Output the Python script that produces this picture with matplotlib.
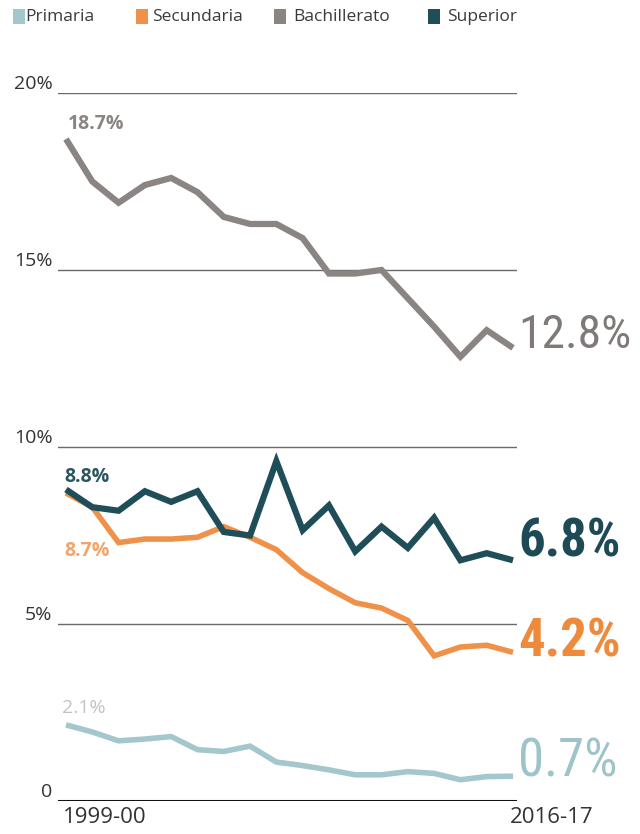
import matplotlib
matplotlib.use("Agg")
import matplotlib.pyplot as plt
from matplotlib import font_manager as fm
from matplotlib.patches import Rectangle

# ---- data ----
years = ["1999-00", "2000-01", "2001-02", "2002-03", "2003-04", "2004-05",
         "2005-06", "2006-07", "2007-08", "2008-09", "2009-10", "2010-11",
         "2011-12", "2012-13", "2013-14", "2014-15", "2015-16", "2016-17"]
bachillerato = [18.7, 17.5, 16.9, 17.4, 17.6, 17.2, 16.5, 16.3, 16.3, 15.9,
                14.9, 14.9, 15.0, 14.2, 13.4, 12.55, 13.3, 12.8]
superior = [8.8, 8.3, 8.2, 8.75, 8.45, 8.75, 7.6, 7.5, 9.6, 7.65,
            8.35, 7.05, 7.75, 7.15, 8.0, 6.8, 7.0, 6.8]
secundaria = [8.7, 8.3, 7.3, 7.4, 7.4, 7.45, 7.75, 7.45, 7.1, 6.45,
              6.0, 5.6, 5.45, 5.1, 4.1, 4.35, 4.4, 4.2]
primaria = [2.15, 1.95, 1.7, 1.75, 1.82, 1.45, 1.4, 1.55, 1.1, 1.0,
            0.88, 0.74, 0.74, 0.83, 0.78, 0.6, 0.69, 0.7]
series_names = ["Primaria", "Secundaria", "Bachillerato", "Superior"]
start_labels = ["2.1%", "8.7%", "18.7%", "8.8%"]
end_labels = ["0.7%", "4.2%", "12.8%", "6.8%"]
ytick_vals = [0, 5, 10, 15, 20]
ytick_labels = ["0", "5%", "10%", "15%", "20%"]

colors = {"Primaria": "#a3c7cd", "Secundaria": "#f0914a",
          "Bachillerato": "#8a8482", "Superior": "#1f4d58"}
values = {"Primaria": primaria, "Secundaria": secundaria,
          "Bachillerato": bachillerato, "Superior": superior}

# pick a narrow font for the big end labels
names = {f.name for f in fm.fontManager.ttflist}
narrow_candidates = ["Liberation Sans Narrow", "Roboto Condensed",
                     "Noto Sans Condensed", "Open Sans Condensed",
                     "DejaVu Sans Condensed", "Noto Sans Display Condensed"]
narrow = None
for c in narrow_candidates:
    if c in names:
        narrow = c
        break
stretch = "normal"
if narrow is None:
    for f in fm.fontManager.ttflist:
        if str(f.stretch) in ("condensed", "semi-condensed", "extra-condensed") or \
           (isinstance(f.stretch, int) and f.stretch < 500):
            narrow = f.name
            stretch = "condensed"
            break
if narrow is None:
    narrow = "Roboto"
    end_size = 31
else:
    end_size = 38 if narrow != "DejaVu Sans Condensed" else 30

W, H = 640, 834
fig = plt.figure(figsize=(W / 100, H / 100), dpi=100)
fig.patch.set_facecolor("white")

ax = fig.add_axes([58 / W, (H - 801) / H, (517 - 58) / W, (801 - 93) / H])
x = list(range(len(years)))
ax.set_xlim(-0.304, 17.152)
ax.set_ylim(0, 20)
for s in ax.spines.values():
    s.set_visible(False)

for v in ytick_vals[1:]:
    ax.axhline(v, color="#6a6a6a", lw=1.0, zorder=1)
ax.axhline(0, color="#111111", lw=2.2, zorder=1)

ax.set_yticks(ytick_vals)
ax.set_yticklabels(ytick_labels, fontsize=14, family=["Open Sans", "DejaVu Sans"],
                   color="#333333")
for lbl in ax.get_yticklabels():
    lbl.set_verticalalignment("bottom")
ax.tick_params(axis="y", length=0, pad=4)

ax.set_xticks([-0.1, len(years) - 1.1])
ax.set_xticklabels([years[0], years[-1]], fontsize=16,
                   family=["Open Sans", "DejaVu Sans"], color="#333333")
for lbl in ax.get_xticklabels():
    lbl.set_horizontalalignment("left")
ax.tick_params(axis="x", length=0, pad=4)

lw = {"Primaria": 4.0, "Secundaria": 4.0, "Bachillerato": 4.5, "Superior": 4.5}
for name in series_names:
    ax.plot(x, values[name], color=colors[name], lw=lw[name],
            solid_joinstyle="miter", solid_capstyle="butt", zorder=3)

start_pos = {"Primaria": (-0.15, 2.63, "#bfc3c5", "normal"),
             "Secundaria": (-0.05, 7.05, "#f2a46a", "bold"),
             "Bachillerato": (0.08, 19.12, "#8a8482", "bold"),
             "Superior": (-0.05, 9.15, "#2b5560", "bold")}
for name, lab in zip(series_names, start_labels):
    sx, sy, c, wgt = start_pos[name]
    ax.text(sx, sy, lab, color=c, fontsize=14, fontweight=wgt,
            family=["Open Sans", "DejaVu Sans"], ha="left", va="center",
            clip_on=False)

end_style = {"Primaria": ("#9ec4ca", "normal", 0.0, 1.0),
             "Secundaria": ("#ee8a3c", "bold", -0.12, 1.0),
             "Bachillerato": ("#7f7977", "normal", 0.0, 0.9),
             "Superior": ("#1e4a55", "bold", 0.1, 1.0)}
for name, lab in zip(series_names, end_labels):
    c, wgt, dy, k = end_style[name]
    ax.text(17.2, values[name][-1] + dy, lab, color=c, fontsize=end_size * k,
            fontweight=wgt, fontstretch=stretch,
            family=[narrow, "DejaVu Sans"],
            ha="left", va="baseline", clip_on=False)

leg = [("Primaria", 13, 25), ("Secundaria", 136, 152),
       ("Bachillerato", 274, 293), ("Superior", 428, 447)]
for name, sqx, tx in leg:
    fig.patches.append(Rectangle((sqx / W, (H - 24) / H), 12 / W, 15 / H,
                                 transform=fig.transFigure,
                                 facecolor=colors[name], edgecolor="none"))
    fig.text(tx / W, (H - 17) / H, name, fontsize=12.5,
             family=["Open Sans", "DejaVu Sans"], color="#3a3a3a",
             ha="left", va="center")

fig.savefig("out.png", dpi=100, facecolor="white")
